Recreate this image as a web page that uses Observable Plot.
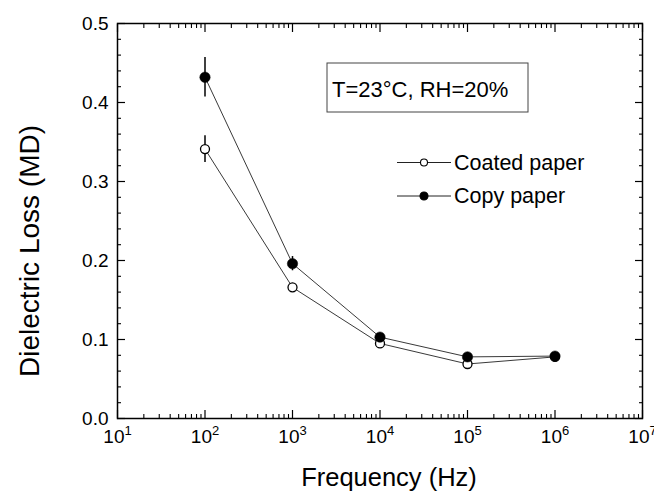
<!DOCTYPE html>
<html>
<head>
<meta charset="utf-8">
<script src="https://cdn.jsdelivr.net/npm/d3@7"></script>
<script src="https://cdn.jsdelivr.net/npm/@observablehq/plot@0.6"></script>
<style>
  html, body { margin: 0; padding: 0; background: white; }
  #chart { position: relative; width: 654px; height: 493px; }
</style>
</head>
<body>
<div id="chart"></div>
<script>
// ---- data ----
const frequency = [1e2, 1e3, 1e4, 1e5, 1e6];
const coatedLoss = [0.341, 0.166, 0.095, 0.069, 0.078];
const coatedErr  = [0.017, 0.005, 0.003, 0.003, 0.002];
const copyLoss   = [0.432, 0.196, 0.103, 0.078, 0.079];
const copyErr    = [0.025, 0.009, 0.004, 0.003, 0.003];

const xMajorTicks = [1e1, 1e2, 1e3, 1e4, 1e5, 1e6, 1e7];
const xExponents  = ["1", "2", "3", "4", "5", "6", "7"];
const xMinorMultipliers = [2, 3, 4, 5, 6, 7, 8, 9];
const yMajorTicks = [0.0, 0.1, 0.2, 0.3, 0.4, 0.5];
const yMinorTicks = [0.02, 0.04, 0.06, 0.08, 0.12, 0.14, 0.16, 0.18, 0.22, 0.24, 0.26, 0.28,
                     0.32, 0.34, 0.36, 0.38, 0.42, 0.44, 0.46, 0.48];

const seriesNames = ["Coated paper", "Copy paper"];
const annotationText = "T=23°C, RH=20%";
const xTitle = "Frequency (Hz)";
const yTitle = "Dielectric Loss (MD)";

// ---- build tables ----
const coatedRows = frequency.map((f, i) => ({f, v: coatedLoss[i], e: coatedErr[i]}));
const copyRows = frequency.map((f, i) => ({f, v: copyLoss[i], e: copyErr[i]}));
const xMinorTicks = xMajorTicks.slice(0, -1).flatMap(d => xMinorMultipliers.map(m => m * d));
const expOf = new Map(xMajorTicks.map((t, i) => [t, xExponents[i]]));

const FONT = "'Liberation Sans', Arial, Helvetica, sans-serif";
const blank = () => "";
const major = 8, minor = 4;

const chart = Plot.plot({
  width: 654,
  height: 493,
  marginLeft: 117,
  marginRight: 12,
  marginTop: 23,
  marginBottom: 75,
  x: {type: "log", domain: [10, 1e7]},
  y: {domain: [0, 0.5]},
  style: {fontFamily: FONT, fontSize: "19px", background: "white", color: "black"},
  marks: [
    // inward ticks, bottom
    Plot.axisX({anchor: "bottom", ticks: xMajorTicks, tickSize: major, dy: -major, tickFormat: blank, label: null, strokeWidth: 1.2}),
    Plot.axisX({anchor: "bottom", ticks: xMinorTicks, tickSize: minor, dy: -minor, tickFormat: blank, label: null, strokeWidth: 1.1}),
    // inward ticks, top
    Plot.axisX({anchor: "top", ticks: xMajorTicks, tickSize: major, dy: major, tickFormat: blank, label: null, strokeWidth: 1.2}),
    Plot.axisX({anchor: "top", ticks: xMinorTicks, tickSize: minor, dy: minor, tickFormat: blank, label: null, strokeWidth: 1.1}),
    // x labels
    Plot.axisX({anchor: "bottom", ticks: xMajorTicks, tickSize: 0, tickPadding: 11, tickFormat: d => "10|" + expOf.get(d), label: null, fontSize: 19}),
    // inward ticks, left / right
    Plot.axisY({anchor: "left", ticks: yMajorTicks, tickSize: major, dx: major, tickFormat: blank, label: null, strokeWidth: 1.2}),
    Plot.axisY({anchor: "left", ticks: yMinorTicks, tickSize: minor, dx: minor, tickFormat: blank, label: null, strokeWidth: 1.1}),
    Plot.axisY({anchor: "right", ticks: yMajorTicks, tickSize: major, dx: -major, tickFormat: blank, label: null, strokeWidth: 1.2}),
    Plot.axisY({anchor: "right", ticks: yMinorTicks, tickSize: minor, dx: -minor, tickFormat: blank, label: null, strokeWidth: 1.1}),
    // y labels
    Plot.axisY({anchor: "left", ticks: yMajorTicks, tickSize: 0, tickPadding: 9, tickFormat: d3.format(".1f"), label: null, fontSize: 19}),
    // series
    Plot.line(coatedRows, {x: "f", y: "v", stroke: "#222", strokeWidth: 0.9}),
    Plot.line(copyRows, {x: "f", y: "v", stroke: "#222", strokeWidth: 0.9}),
    Plot.ruleX(coatedRows, {x: "f", y1: d => d.v - d.e, y2: d => d.v + d.e, stroke: "black", strokeWidth: 1.5}),
    Plot.ruleX(copyRows, {x: "f", y1: d => d.v - d.e, y2: d => d.v + d.e, stroke: "black", strokeWidth: 1.5}),
    Plot.dot(coatedRows, {x: "f", y: "v", r: 4.5, fill: "white", stroke: "black", strokeWidth: 1.3}),
    Plot.dot(copyRows, {x: "f", y: "v", r: 5.2, fill: "black", stroke: "black", strokeWidth: 0.5}),
    Plot.frame({stroke: "black", strokeWidth: 1.5})
  ]
});

document.getElementById("chart").appendChild(chart);

// superscript exponents on x tick labels
d3.select(chart).selectAll("text").each(function () {
  const t = this.textContent;
  if (t.includes("|")) {
    const [base, exp] = t.split("|");
    this.textContent = "";
    const sel = d3.select(this);
    sel.append("tspan").text(base);
    sel.append("tspan").attr("dy", "-8").attr("font-size", "13").text(exp);
  }
});

const svg = d3.select(chart);
const g = svg.append("g").attr("font-family", FONT).attr("fill", "black").attr("text-anchor", "start");

// axis titles
g.append("text").attr("x", 389).attr("y", 486).attr("text-anchor", "middle")
  .attr("font-size", 25.5).text(xTitle);
g.append("text").attr("transform", "translate(39,251) rotate(-90)").attr("text-anchor", "middle")
  .attr("font-size", 28).text(yTitle);

// annotation box
g.append("rect").attr("x", 327).attr("y", 63).attr("width", 201).attr("height", 49)
  .attr("fill", "white").attr("stroke", "#444").attr("stroke-width", 1);
g.append("text").attr("x", 332).attr("y", 96.5).attr("text-anchor", "start")
  .attr("font-size", 22).text(annotationText);

// legend
const legendItems = [
  {name: seriesNames[0], y: 162.5, fill: "white", r: 3.5},
  {name: seriesNames[1], y: 196, fill: "black", r: 4}
];
for (const it of legendItems) {
  g.append("line").attr("x1", 397).attr("x2", 451).attr("y1", it.y).attr("y2", it.y)
    .attr("stroke", "#222").attr("stroke-width", 1);
  g.append("circle").attr("cx", 424).attr("cy", it.y).attr("r", it.r)
    .attr("fill", it.fill).attr("stroke", "black").attr("stroke-width", 1.1);
  g.append("text").attr("x", 454).attr("y", it.y + 7).attr("text-anchor", "start")
    .attr("font-size", 21.5).text(it.name);
}
</script>
</body>
</html>
